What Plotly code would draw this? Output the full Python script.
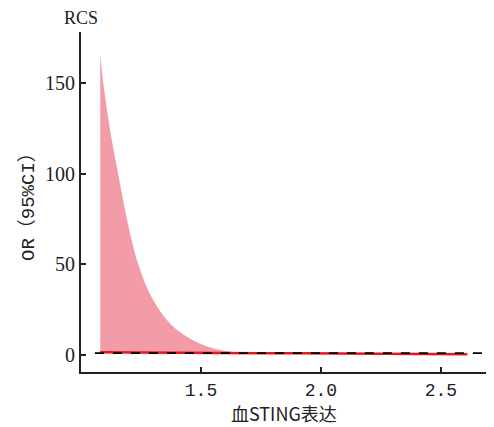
import plotly.graph_objects as go

# Data
sting = [1.08, 1.093, 1.11, 1.128, 1.155, 1.19, 1.239, 1.294, 1.371, 1.467, 1.58, 1.66, 1.75, 1.9, 2.1, 2.3, 2.5, 2.61]
or_upper = [166, 150, 134, 119, 100, 76, 50, 32, 17.4, 8.2, 2.7, 1.4, 1.15, 1.05, 1.0, 0.95, 0.9, 0.85]
or_est = [1.5, 1.48, 1.46, 1.44, 1.42, 1.4, 1.36, 1.32, 1.27, 1.2, 1.12, 1.05, 1.0, 0.9, 0.75, 0.6, 0.45, 0.4]
or_lower = [1.3, 1.28, 1.26, 1.24, 1.22, 1.2, 1.16, 1.12, 1.07, 1.0, 0.95, 0.9, 0.85, 0.75, 0.6, 0.45, 0.3, 0.25]
ref_or = 1.0
x_ticks = [1.5, 2.0, 2.5]
x_tick_text = ["1.5", "2.0", "2.5"]
y_ticks = [0, 50, 100, 150]

fig = go.Figure()
fig.add_trace(go.Scatter(x=sting, y=or_lower, mode="lines", line=dict(width=0),
                         showlegend=False, hoverinfo="skip"))
fig.add_trace(go.Scatter(x=sting, y=or_upper, mode="lines", line=dict(width=0, shape="spline"),
                         fill="tonexty", fillcolor="rgb(242,156,168)", showlegend=False))
fig.add_trace(go.Scatter(x=sting, y=or_est, mode="lines", line=dict(color="#E8141E", width=2.5),
                         showlegend=False))
fig.add_shape(type="line", xref="x", yref="y", x0=1.058, x1=2.69, y0=ref_or, y1=ref_or,
              line=dict(color="black", width=1.6, dash="dash"))

# The page adds an 8px body margin, so the figure is sized to fit inside it
fig.update_layout(
    width=486, height=419,
    margin=dict(l=73, r=7, t=24, b=55, autoexpand=False),
    paper_bgcolor="white", plot_bgcolor="white",
    font=dict(family="Liberation Serif, Noto Sans CJK SC", color="#222"),
    xaxis=dict(range=[1.0, 2.692], tickvals=x_ticks, ticktext=x_tick_text,
               showline=True, linecolor="#222", linewidth=2, ticks="inside", ticklen=5,
               tickwidth=1.5, tickcolor="#222", showgrid=False, zeroline=False, automargin=False,
               tickfont=dict(family="Liberation Mono", size=18)),
    yaxis=dict(range=[-9.4, 178.4], tickvals=y_ticks,
               showline=True, linecolor="#222", linewidth=2, ticks="inside", ticklen=5,
               tickwidth=1.5, tickcolor="#222", showgrid=False, zeroline=False, automargin=False,
               tickfont=dict(family="Liberation Serif", size=20)),
    annotations=[
        dict(text="RCS", xref="paper", yref="paper", x=0, y=1, xanchor="center", yanchor="middle",
             yshift=14, showarrow=False, font=dict(family="Liberation Serif", size=18)),
        dict(text="OR（95%CI）", xref="paper", yref="paper", x=0, y=0.5, xshift=-53,
             xanchor="center", yanchor="middle",
             textangle=-90, showarrow=False, font=dict(family="Liberation Mono, Noto Sans CJK SC", size=19)),
        dict(text="血STING表达", xref="paper", yref="paper", x=0.5, y=0, yshift=-41,
             xanchor="center", yanchor="middle", showarrow=False,
             font=dict(family="Noto Sans CJK SC", size=18)),
    ],
)
fig.write_html("out.html")
